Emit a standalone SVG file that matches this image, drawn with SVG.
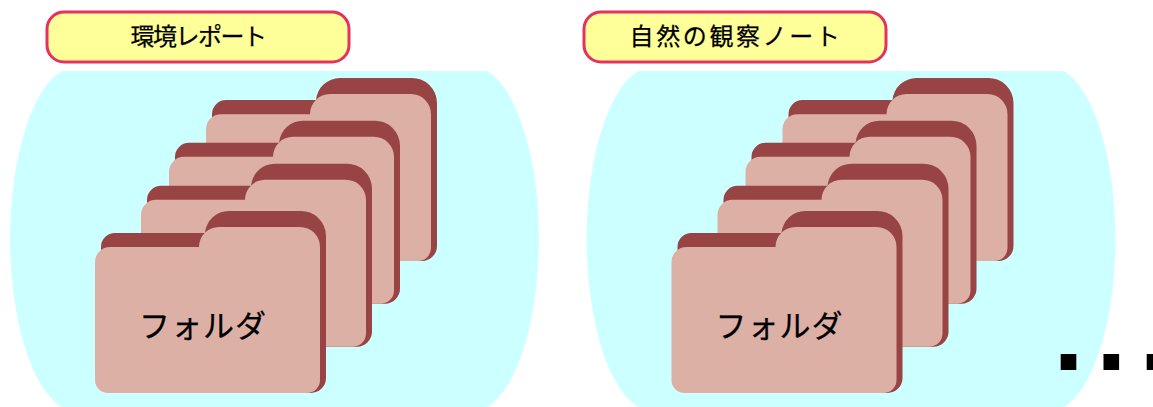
<svg xmlns="http://www.w3.org/2000/svg" xmlns:xlink="http://www.w3.org/1999/xlink" width="1153" height="407" viewBox="0 0 1153 407">
<style>
.can{fill:#ccffff}
.back{fill:#994444}
.front{fill:#ddb0a5}
.lab{fill:#ffff99;stroke:#e6305f;stroke-width:3}
text{font-family:"Noto Sans CJK JP","Noto Sans CJK SC",sans-serif;fill:#000;stroke:#000;stroke-width:.25px;text-anchor:middle}
.t{font-size:24px}
.f{font-size:31px}
.dot{fill:#000}
</style>
<defs>
<g id="folder">
<path class="back" d="M101 247A14 14 0 0 1 115 233H205A24 24 0 0 1 229 211H300A25 25 0 0 1 326 236V378A15 15 0 0 1 311 393H200V300H101Z"/>
<path class="front" d="M95 262A15 15 0 0 1 110 247H199A20 20 0 0 1 219 227H300A20 20 0 0 1 320 247V380A13 13 0 0 1 307 393H108A13 13 0 0 1 95 380Z"/>
</g>
<g id="stack">
<path class="can" d="M62 71H487A66 172 0 0 1 487 407H62A66 172 0 0 1 62 71Z"/>
<use xlink:href="#folder" href="#folder" transform="translate(111 -134.160) scale(1 1.0055)"/>
<use xlink:href="#folder" href="#folder" transform="translate(74 -91.500) scale(1 1.0055)"/>
<use xlink:href="#folder" href="#folder" transform="translate(46 -48.500) scale(1 1.0055)"/>
<use xlink:href="#folder" href="#folder"/>
</g>
</defs>
<g id="group1">
<use xlink:href="#stack" href="#stack"/>
<text class="f" x="203" y="337" style="letter-spacing:1px">フォルダ</text>
</g>
<g id="label1">
<rect class="lab" x="47" y="12" width="302" height="50" rx="17"/>
<text class="t" x="198" y="45" style="letter-spacing:-1.5px">環境レポート</text>
</g>
<g id="group2">
<use xlink:href="#stack" href="#stack" x="576.500"/>
<text class="f" x="779.500" y="337" style="letter-spacing:1px">フォルダ</text>
</g>
<g id="label2">
<rect class="lab" x="584" y="12" width="302" height="50" rx="17"/>
<text class="t" x="736" y="45" style="letter-spacing:2.6px">自然の観察ノート</text>
</g>
<g id="dots">
<rect class="dot" x="1060.700" y="354" width="15.600" height="16"/>
<rect class="dot" x="1103.500" y="354" width="15.600" height="16"/>
<rect class="dot" x="1146.700" y="354" width="15.600" height="16"/>
</g>
<g id="connectors"/>
</svg>
